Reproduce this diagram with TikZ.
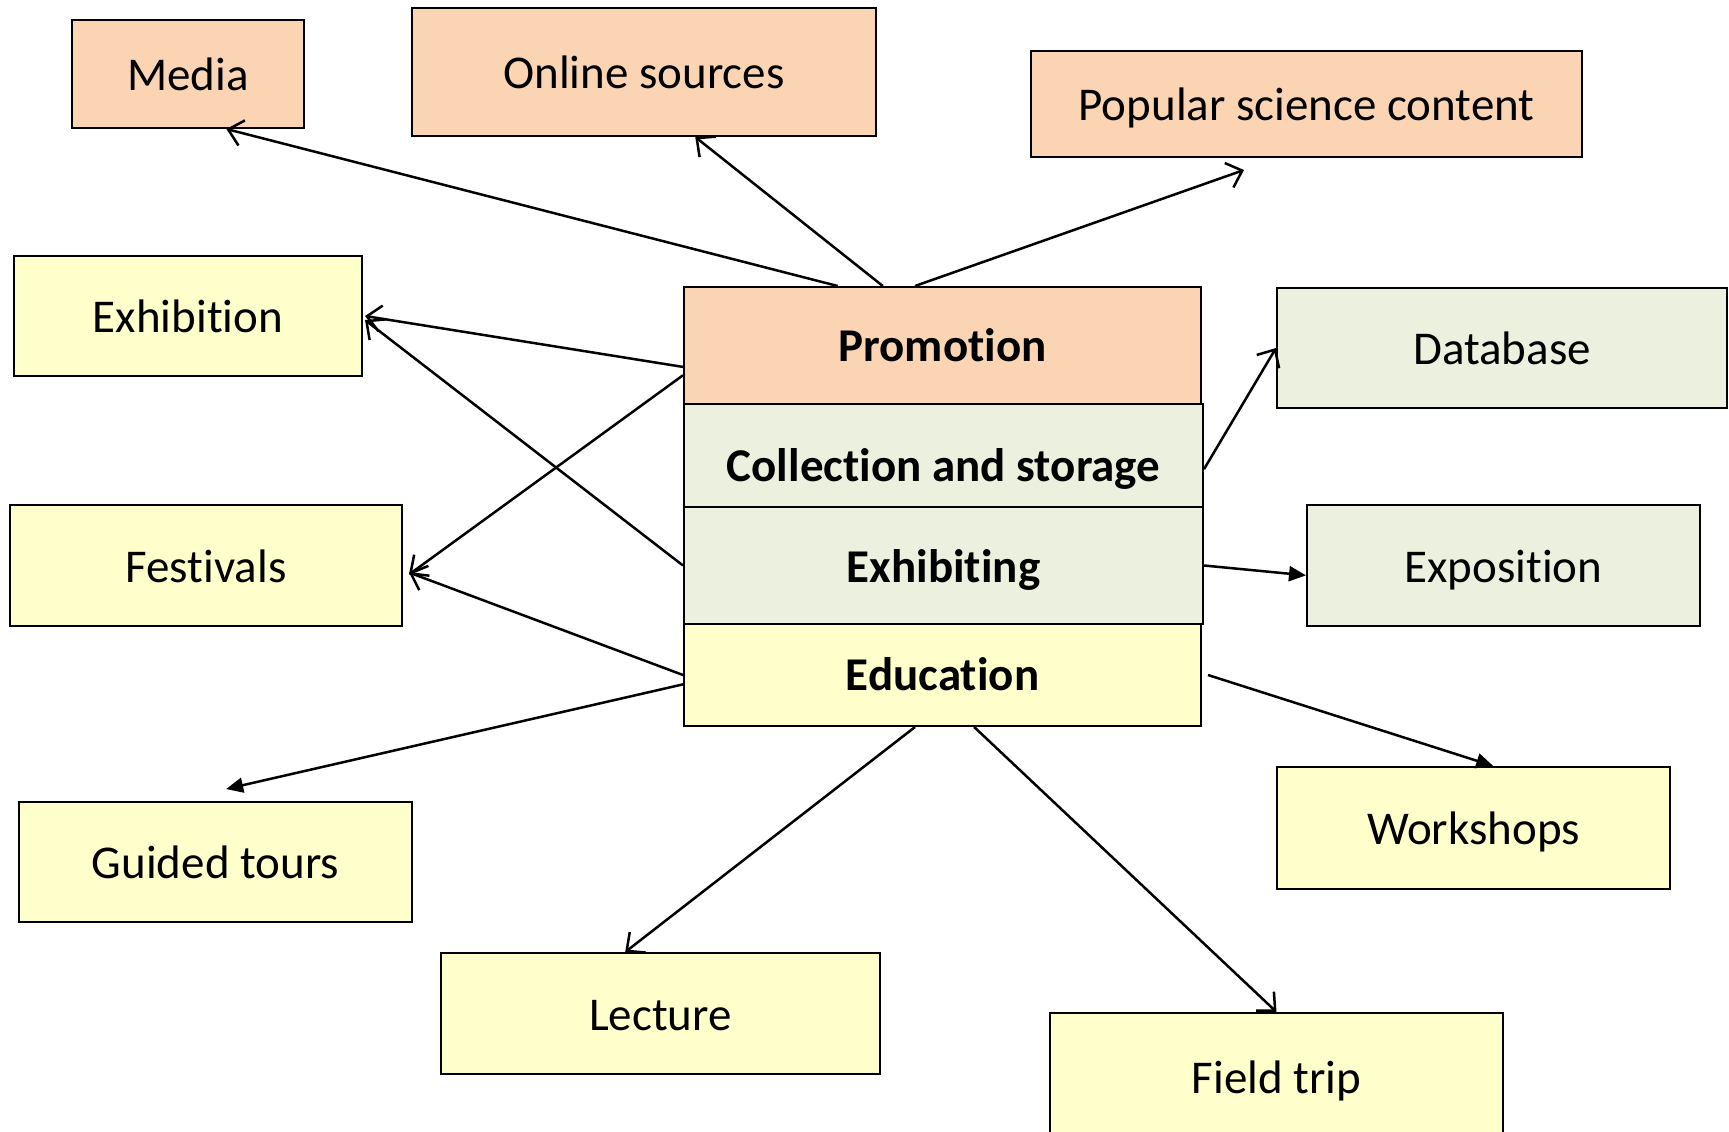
\documentclass[tikz,border=0pt]{standalone}
\usepackage{fontspec}
\setmainfont[Ligatures=NoCommon]{Carlito}
\usetikzlibrary{arrows.meta,calc}
\definecolor{peach}{HTML}{FBD4B4}
\definecolor{paleyellow}{HTML}{FFFFCC}
\definecolor{palegreen}{HTML}{EBF1DE}
\tikzset{
  box/.style={draw=black, line width=2pt, inner sep=0pt, text height=35pt, text depth=2pt, font=\fontsize{47}{56}\selectfont},
  obox/.style={box, fill=peach},
  ybox/.style={box, fill=paleyellow},
  gbox/.style={box, fill=palegreen},
  core/.style={font=\fontsize{47}{56}\selectfont\bfseries},
  opena/.style={line width=2.5pt, -{Straight Barb[length=14pt,width=26pt,line width=2.5pt]}},
  filla/.style={line width=2.5pt, -{Triangle[length=17pt,width=15pt]}},
}
\begin{document}
\begin{tikzpicture}[x=1pt,y=-1pt]
\useasboundingbox[fill=white] (0,0) rectangle (1729,1132);
% outer boxes
\node[obox, minimum width=232pt, minimum height=108pt] (media) at (188,74) {Media};
\node[obox, minimum width=464pt, minimum height=128pt] (online) at (644,72) {Online sources};
\node[obox, minimum width=551pt, minimum height=106pt] (popsci) at (1306.5,104) {Popular science content};
\node[ybox, minimum width=348pt, minimum height=120pt] (exhib) at (188,316) {Exhibition};
\node[ybox, minimum width=392pt, minimum height=121pt] (fest) at (206,565.5) {Festivals};
\node[ybox, minimum width=393pt, minimum height=120pt] (guided) at (215.5,862) {Guided tours};
\node[ybox, minimum width=439pt, minimum height=121pt] (lecture) at (660.5,1013.5) {Lecture};
\node[ybox, minimum width=453pt, minimum height=127pt] (field) at (1276.5,1076.5) {Field trip};
\node[ybox, minimum width=393pt, minimum height=122pt] (work) at (1473.5,828) {Workshops};
\node[gbox, minimum width=393pt, minimum height=121pt] (expo) at (1503.5,565.5) {Exposition};
\node[gbox, minimum width=450pt, minimum height=120pt] (db) at (1502,348) {Database};
% central stack
\node[obox, core, minimum width=517pt, minimum height=117pt, text height=33pt] (prom) at (942.5,345.5) {Promotion};
\node[gbox, core, minimum width=519pt, minimum height=103pt, text height=54pt, text depth=2pt] (coll) at (943.5,455.5) {Collection and storage};
\node[gbox, core, minimum width=519pt, minimum height=117pt, text height=36pt] (exhg) at (943.5,565.5) {Exhibiting};
\node[ybox, core, minimum width=517pt, minimum height=102pt, text height=32pt] (edu) at (942.5,675) {Education};
% connectors
\draw[opena] ($(prom.north west)!0.298!(prom.north east)$) -- ($(media.south west)!0.664!(media.south east)$);
\draw[opena] ($(prom.north west)!0.385!(prom.north east)$) -- ($(online.south west)!0.61!(online.south east)$);
\draw[opena] ($(prom.north west)!0.447!(prom.north east)$) -- ([yshift=-12pt]$(popsci.south west)!0.387!(popsci.south east)$);
\draw[opena] ($(prom.north west)!0.68!(prom.south west)$) -- ([xshift=2pt]exhib.east);
\draw[opena] (exhg.west) -- ([xshift=2pt,yshift=-4pt]exhib.east);
\draw[opena] ($(prom.north west)!0.75!(prom.south west)$) -- ([xshift=6pt,yshift=-9pt]fest.east);
\draw[opena] (edu.west) -- ([xshift=6pt,yshift=-7pt]fest.east);
\draw[filla] ($(edu.north west)!0.59!(edu.south west)$) -- ([yshift=12pt]$(guided.north west)!0.527!(guided.north east)$);
\draw[opena] ($(edu.south west)!0.447!(edu.south east)$) -- ($(lecture.north west)!0.42!(lecture.north east)$);
\draw[opena] ($(edu.south west)!0.561!(edu.south east)$) -- (field.north);
\draw[filla] ([xshift=6pt]edu.east) -- ($(work.north west)!0.55!(work.north east)$);
\draw[filla] (exhg.east) -- ($(expo.north west)!0.58!(expo.south west)$);
\draw[opena] ($(coll.north east)!0.63!(coll.south east)$) -- (db.west);
\end{tikzpicture}
\end{document}
